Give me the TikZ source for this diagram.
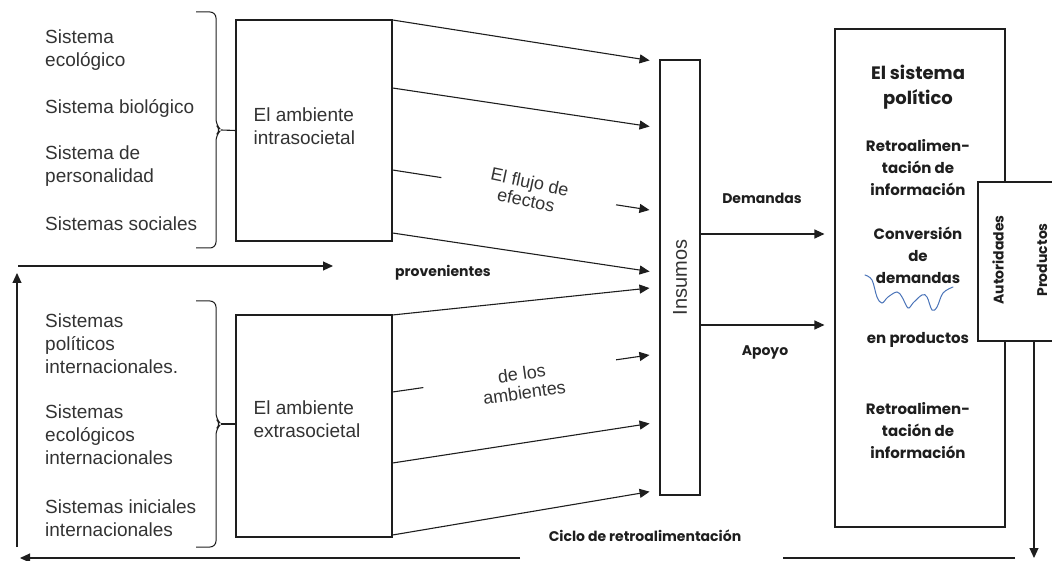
\documentclass[tikz,border=0pt]{standalone}
\usepackage{fontspec}
\setmainfont{Liberation Sans}
\newfontfamily\popfont{Poppins}
\usetikzlibrary{arrows.meta,positioning,calc}
\definecolor{FigInk}{HTML}{1E1E1E}
\definecolor{FigText}{HTML}{333333}
\definecolor{FigBlue}{HTML}{4A74B9}

\begin{document}
\begin{tikzpicture}[x=1pt,y=-1pt,
    box/.style={draw=FigInk,line width=1.1pt,fill=white,inner sep=0pt},
    sys/.style={anchor=west,align=left,inner sep=0pt,text=FigText,font=\fontsize{19}{23}\selectfont},
    flow/.style={align=center,inner sep=0pt,text=FigText,font=\fontsize{18}{19}\selectfont},
    lbl/.style={align=center,inner sep=0pt,text=FigInk,font=\popfont\bfseries\fontsize{14}{18}\selectfont},
    polt/.style={align=center,inner sep=0pt,text=FigInk,font=\popfont\bfseries\fontsize{15}{22}\selectfont},
    arr/.style={-{Triangle[length=10pt,width=9pt]},line width=1.1pt,FigInk},
    ln/.style={line width=1.1pt,FigInk},
    brc/.style={line width=1pt,FigInk,rounded corners=6pt}
  ]
  \clip (0,0) rectangle (1052,561);

  % the two environments
  \node[box,minimum width=156pt,minimum height=221pt] (intra) at (314,130.5) {};
  \node[box,minimum width=156pt,minimum height=222pt] (extra) at (314,426) {};
  \node[sys] (intraT) at ($(intra.west)+(18,-4)$) {El ambiente\\intrasocietal};
  \node[sys] (extraT) at ($(extra.west)+(18,-7)$) {El ambiente\\extrasocietal};

  % systems listed on the left
  \node[sys] (ecol) at (45,50) {Sistema\\ecológico};
  \node[sys] (biol) at (45,108) {Sistema biológico};
  \node[sys] (pers) at (45,166) {Sistema de\\personalidad};
  \node[sys] (soc) at (45,224) {Sistemas sociales};
  \node[sys] (polint) at (45,344) {Sistemas\\políticos\\internacionales.};
  \node[sys] (ecoint) at (45,435) {Sistemas\\ecológicos\\internacionales};
  \node[sys] (iniint) at (45,518) {Sistemas iniciales\\internacionales};

  % braces
  \draw[brc] (196,12) -- (216,12) -- (216,125) -- (221,130) -- (216,135) -- (216,248) -- (196,248);
  \draw[ln] (221,130) -- (intra.west);
  \draw[brc] (196,301) -- (216,301) -- (216,419) -- (221,424) -- (216,429) -- (216,547) -- (196,547);
  \draw[ln] (221,424) -- (extra.west |- 0,424);

  % inputs
  \node[box,minimum width=40pt,minimum height=435pt] (ins) at (680,277.5) {};
  \node[rotate=90,inner sep=0pt,text=FigText,font=\fontsize{20}{24}\selectfont] (insT) at (ins) {Insumos};

  \foreach \ys/\ye in {20/62,88/128,233/273,315/287,463/422,535/490}
    \draw[arr,shorten >=10pt] (intra.east |- 0,\ys) -- (ins.west |- 0,\ye);

  % broken arrows around the flow labels
  \coordinate (fa) at (intra.east |- 0,170);
  \coordinate (fb) at ([xshift=-10pt]ins.west |- 0,210);
  \draw[ln] (fa) -- ($(fa)!0.19!(fb)$);
  \draw[arr] ($(fa)!0.87!(fb)$) -- (fb);
  \coordinate (ga) at (extra.east |- 0,392);
  \coordinate (gb) at ([xshift=-10pt]ins.west |- 0,355);
  \draw[ln] (ga) -- ($(ga)!0.12!(gb)$);
  \draw[arr] ($(ga)!0.87!(gb)$) -- (gb);

  \node[flow,rotate=-12] (flujo) at (528,191) {El flujo de\\efectos};
  \node[flow,rotate=8] (amb) at (523,383) {de los\\ambientes};
  \node[lbl] (prov) at (443,273) {provenientes};

  % political system
  \node[box,minimum width=170pt,minimum height=498pt] (pol) at (920,278) {};
  \node[box,minimum width=82pt,minimum height=159pt] (auth) at (1019,261.5) {};
  \node[lbl,rotate=90] (autT) at (998,260) {Autoridades};
  \node[lbl,rotate=90] (prodT) at (1042,260) {Productos};

  \node[polt,font=\popfont\bfseries\fontsize{18}{25}\selectfont] (polT) at (918,87) {El sistema\\político};
  \node[polt] (retroA) at (918,168) {Retroalimen-\\tación de\\información};
  \node[polt] (conv) at (918,255) {Conversión\\de\\demandas};
  \node[polt] (enprod) at (918,340) {en productos};
  \node[polt] (retroB) at (918,431) {Retroalimen-\\tación de\\información};
  \draw[FigBlue,line width=1pt,line cap=round] plot[smooth,tension=0.6] coordinates {(865,275) (872,280) (877,297) (882,303) (888,297) (897,292) (902,297) (908,308) (913,303) (922,295) (927,297) (932,310) (937,307) (943,293) (953,287)};

  % demands and support
  \draw[arr,shorten >=10pt] (ins.east |- 0,234) -- (pol.west |- 0,234);
  \draw[arr,shorten >=10pt] (ins.east |- 0,325) -- (pol.west |- 0,325);
  \node[lbl] (dem) at (762,198) {Demandas};
  \node[lbl] (apoyo) at (765,352) {Apoyo};

  % feedback loop
  \coordinate (outA) at ([xshift=15pt]auth.south);
  \coordinate (outB) at (outA |- 0,558);
  \draw[arr] (outA) -- (outB);
  \coordinate (bkA) at (1015,558);
  \coordinate (bkB) at (783,558);
  \coordinate (bkC) at (520,558);
  \coordinate (bkD) at (20,558);
  \draw[ln] (bkA) -- (bkB);
  \draw[arr] (bkC) -- (bkD);
  \node[lbl] (ciclo) at (645,536) {Ciclo de retroalimentación};
  \coordinate (upA) at (17,547);
  \coordinate (upB) at (17,273);
  \draw[arr] (upA) -- (upB);
  \coordinate (lpA) at (18,266);
  \coordinate (lpB) at (333,266);
  \draw[arr] (lpA) -- (lpB);
\end{tikzpicture}
\end{document}
